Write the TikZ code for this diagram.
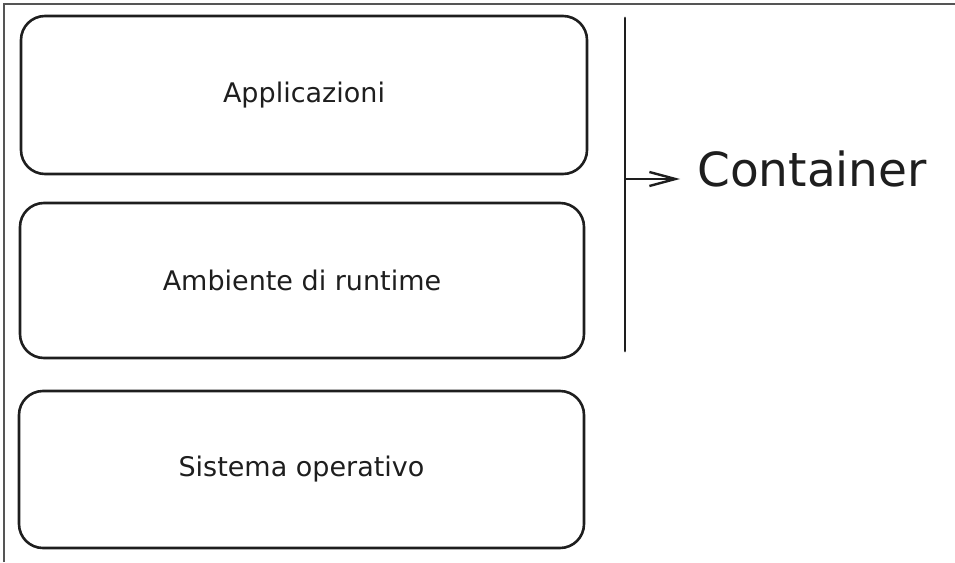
\documentclass[tikz,border=0pt]{standalone}
\usepackage{fontspec}
\setmainfont{DejaVu Sans}
\usetikzlibrary{arrows.meta}
\definecolor{framegray}{HTML}{555555}
\definecolor{ink}{HTML}{1E1E1E}
\begin{document}
\begin{tikzpicture}[x=1pt,y=-1pt,
  layer/.style={draw=ink, line width=2.6pt, rounded corners=24pt,
    inner sep=0pt, font=\fontsize{27}{32}\selectfont, text=ink},
  bracketline/.style={draw=ink, line width=2.8pt, line cap=round},
  pointer/.style={draw=ink, line width=2.4pt, line cap=round,
    -{Straight Barb[length=26pt, width=14pt, line width=2.4pt]}},
  biglabel/.style={font=\fontsize{47}{54}\selectfont, text=ink, inner sep=0pt, anchor=west}]
\useasboundingbox (0,0) rectangle (955,562);
% outer frame: top and left edges only
\draw[framegray, line width=1.4pt] (4,562) -- (4,4) -- (955,4);
% the three stacked layers
\node[layer, minimum width=566pt, minimum height=158pt] (app) at (304,95) {Applicazioni};
\node[layer, minimum width=564pt, minimum height=155pt] (rt) at (302,280.5) {Ambiente di runtime};
\node[layer, minimum width=565pt, minimum height=157pt] (os) at (301.5,469.5) {Sistema operativo};
% vertical bracket grouping the upper two layers
\coordinate (btop) at (625,18);
\coordinate (bbot) at (625,351);
\draw[bracketline] (btop) -- (bbot);
% label and its pointer
\node[biglabel] (ctr) at (697,169) {Container};
\coordinate (tap) at (626,179);
\coordinate (tip) at (680,179);
\draw[pointer] (tap) -- (tip);
\end{tikzpicture}
\end{document}
